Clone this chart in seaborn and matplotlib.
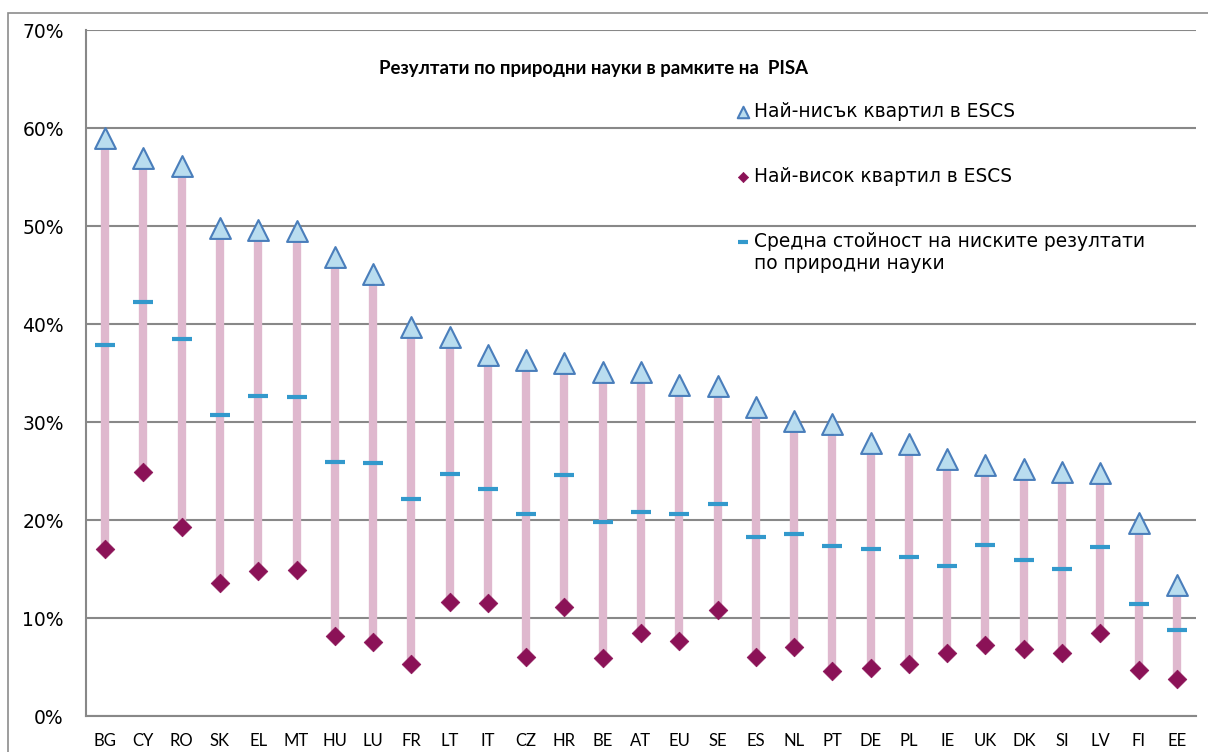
import matplotlib
matplotlib.use("Agg")
import matplotlib.pyplot as plt
import seaborn as sns
import pandas as pd
from matplotlib.patches import Rectangle
from matplotlib.transforms import IdentityTransform
from matplotlib.ticker import FixedLocator, FuncFormatter

countries = ["BG", "CY", "RO", "SK", "EL", "MT", "HU", "LU", "FR", "LT", "IT", "CZ", "HR", "BE", "AT",
             "EU", "SE", "ES", "NL", "PT", "DE", "PL", "IE", "UK", "DK", "SI", "LV", "FI", "EE"]
lowest_q = [59.0, 56.9, 56.1, 49.8, 49.6, 49.5, 46.8, 45.1, 39.7, 38.7, 36.8, 36.3, 36.0, 35.1, 35.1,
            33.8, 33.7, 31.5, 30.1, 29.8, 27.9, 27.8, 26.2, 25.6, 25.2, 24.9, 24.8, 19.7, 13.4]
highest_q = [17.0, 24.9, 19.3, 13.6, 14.8, 14.9, 8.2, 7.6, 5.3, 11.6, 11.5, 6.0, 11.1, 5.9, 8.5,
             7.7, 10.8, 6.0, 7.0, 4.6, 4.9, 5.3, 6.4, 7.2, 6.8, 6.4, 8.5, 4.7, 3.8]
average = [37.9, 42.2, 38.5, 30.7, 32.7, 32.6, 25.9, 25.8, 22.1, 24.7, 23.2, 20.6, 24.6, 19.8, 20.8,
           20.6, 21.6, 18.3, 18.6, 17.3, 17.0, 16.2, 15.3, 17.4, 15.9, 15.0, 17.2, 11.4, 8.8]
y_ticks = [0, 10, 20, 30, 40, 50, 60, 70]

title = "Резултати по природни науки в рамките на  PISA"
lab_low = "Най-нисък квартил в ESCS"
lab_high = "Най-висок квартил в ESCS"
lab_avg_1 = "Средна стойност на ниските резултати"
lab_avg_2 = "по природни науки"

df = pd.DataFrame({"country": countries, "low": lowest_q, "high": highest_q, "avg": average})

sns.set_style("white")
plt.rcParams["font.family"] = ["DejaVu Sans"]
plt.rcParams["text.color"] = "black"

fig = plt.figure(figsize=(12.08, 7.52), dpi=100)
ax = fig.add_axes([86 / 1208, 1 - 716 / 752, (1196 - 86) / 1208, (716 - 30) / 752])

# figure border
fig.patches.append(Rectangle((8 / 1208, -0.1), 1.2, 1 - 13 / 752 + 0.1, transform=fig.transFigure,
                             fill=False, edgecolor="#8c8c8c", linewidth=1.2, zorder=0))

x = list(range(len(countries)))
ax.vlines(x, df["high"], df["low"], color="#DFB8CE", linewidth=6, zorder=2)

sns.scatterplot(x=x, y=df["low"], ax=ax, marker="^", s=15 ** 2, color="#B9DDEF",
                edgecolor="#4A7EBB", linewidth=1.5, zorder=4, label=lab_low, legend=False)
sns.scatterplot(x=x, y=df["high"], ax=ax, marker="D", s=9.5 ** 2, color="#8B1257",
                edgecolor="#8B1257", linewidth=0.5, zorder=4, label=lab_high, legend=False)
sns.scatterplot(x=x, y=df["avg"], ax=ax, marker="_", s=14 ** 2, color="#3399CC",
                linewidth=3, zorder=5, label=lab_avg_1, legend=False)

ax.set_xlim(-0.5, len(countries) - 0.5)
ax.set_ylim(0, 70)
ax.yaxis.set_major_locator(FixedLocator(y_ticks))
ax.yaxis.set_major_formatter(FuncFormatter(lambda v, p: f"{int(v)}%"))
ax.grid(axis="y", color="#888888", linewidth=1.5)
ax.set_axisbelow(True)
ax.set_xticks(x)
ax.set_xticklabels(countries, fontfamily="Lato", fontsize=12)
ax.set_xticks([i - 0.5 for i in range(len(countries) + 1)], minor=True)
ax.tick_params(axis="x", which="major", length=0, pad=12, labelcolor="black")
ax.tick_params(axis="x", which="minor", length=6, width=1.5, color="#888888", direction="out")
ax.tick_params(axis="y", length=7, width=1.5, color="#888888", direction="out", labelsize=13.5,
               pad=9, labelcolor="black")
for s in ["top", "right"]:
    ax.spines[s].set_visible(False)
for s in ["left", "bottom"]:
    ax.spines[s].set_color("#888888")
    ax.spines[s].set_linewidth(1.5)
ax.set_xlabel("")
ax.set_ylabel("")

ax.text(0.4575, 0.944, title, transform=ax.transAxes, ha="center", va="center",
        fontsize=13.4, fontweight="bold", fontfamily="Lato", color="black")

h, l = ax.get_legend_handles_labels()
leg = ax.legend(h, l, loc="upper left", bbox_to_anchor=(0.5802, 0.906), frameon=False,
                fontsize=13.4, labelspacing=2.47, handlelength=0.6, handletextpad=0.3,
                markerscale=0.55, borderaxespad=0)
for t in leg.get_texts():
    t.set_color("black")

fig.canvas.draw()
bb = leg.get_texts()[2].get_window_extent()
fig.text(bb.x0, bb.y0 - 3, lab_avg_2, transform=IdentityTransform(), ha="left", va="top",
         fontsize=13.4, color="black")

fig.savefig("out.png", dpi=100)
